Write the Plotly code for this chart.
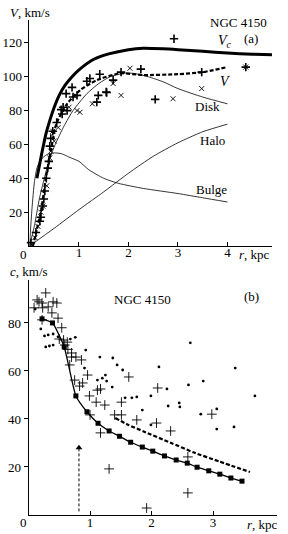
import plotly.graph_objects as go

# ---------- Panel (a) data ----------
vc_r = [0.15, 0.25, 0.33, 0.43, 0.5, 0.6, 0.72, 0.86, 1.0, 1.28, 1.6, 2.0, 2.3, 2.7, 3.0, 3.5, 4.0, 4.5, 4.9]
vc_v = [40, 55, 66, 76, 82, 89, 95, 100, 104, 110, 113.5, 116, 116.8, 116.5, 116, 115, 114, 113.3, 113]

vobs_r = [0.07, 0.15, 0.23, 0.33, 0.43, 0.54, 0.76, 1.02, 1.36, 1.83, 2.3, 3.0, 3.5, 4.0]
vobs_v = [0, 10, 20, 40, 56, 72, 84, 92, 98, 102, 101, 101.5, 102.7, 105.7]

disk_r = [0, 0.1, 0.2, 0.3, 0.4, 0.52, 0.7, 0.88, 1.16, 1.4, 1.63, 1.9, 2.1, 2.4, 2.7, 3.0, 3.5, 4.0]
disk_v = [0, 12, 28, 40, 51, 60, 71, 80, 90, 96, 100, 102, 102, 100, 97, 93, 88, 84]

halo_r = [0, 0.5, 1.0, 1.5, 2.0, 2.5, 3.0, 3.5, 4.0]
halo_v = [0, 10.5, 21.5, 32, 43, 53, 61, 67.5, 72]

bulge_r = [0, 0.05, 0.1, 0.15, 0.23, 0.35, 0.5, 0.65, 0.8, 1.0, 1.2, 1.5, 1.8, 2.3, 3.0, 3.5, 4.0]
bulge_v = [0, 22, 38, 46, 51, 54, 55, 54.5, 52.5, 50, 45, 40, 37, 34, 31, 28.5, 26]

plus_a_r = [1.42, 1.22, 1.16, 0.86, 0.74, 0.96, 0.88, 1.56, 1.39, 1.36, 0.64, 0.68, 0.66, 0.76, 0.55,
            1.85, 2.25, 1.69, 1.55, 2.54, 3.48, 2.92, 4.37, 0.34, 0.31, 0.29, 0.27, 0.23, 0.21, 0.13,
            0.03, 0.43, 0.41, 0.37, 0.47, 0.39]
plus_a_v = [101.5, 99, 97.3, 93.7, 90, 89, 88, 90.7, 89, 85, 80.6, 82, 78, 80, 73,
            102.7, 104.5, 98, 91, 86.6, 102.7, 122.4, 105.7, 40, 32.5, 27.8, 23.6, 17, 14.6, 8,
            2, 63.6, 59, 46, 67.8, 50]

x_a_r = [1.27, 1.69, 0.96, 1.02, 2.03, 1.85, 2.9, 3.48, 4.37, 0.43, 0.35, 0.27, 0.23, 0.17, 0.11,
         0.47, 0.41, 0.5, 0.58, 0.8]
x_a_v = [84, 96, 80, 79, 105, 89, 87, 93, 105.7, 56, 35.6, 23.6, 20, 11.6, 5,
         67.8, 52, 62, 70, 82]

# ---------- Panel (b) data ----------
sq_r = [0.22, 0.39, 0.58, 0.77, 0.95, 1.13, 1.31, 1.48, 1.66, 1.85, 2.02, 2.21, 2.4, 2.58, 2.74, 2.93, 3.11, 3.29, 3.47]
sq_c = [81.7, 80, 70, 49.6, 43, 38.2, 35, 32.8, 30.3, 28.3, 26.6, 24.6, 22.9, 21.6, 19.9, 18.4, 17, 15.4, 14.1]

dash_b_r = [1.41, 1.6, 1.89, 2.3, 2.69, 3.1, 3.6]
dash_b_c = [40.4, 37.8, 34.6, 30.2, 26, 22.3, 17.9]

plus_b_r = [0.28, 0.14, 0.17, 0.22, 0.4, 0.46, 0.09, 0.23, 0.32, 0.38, 0.48, 0.22, 0.54, 0.5, 0.57, 0.63,
            0.59, 0.64, 0.7, 0.7, 0.77, 0.86, 0.67, 0.96, 1.63, 0.75, 0.88, 0.83, 1.12, 1.17, 0.99,
            2.1, 1.1, 1.24, 1.51, 1.0, 1.4, 1.51, 1.17, 1.76, 1.31, 2.08, 2.31, 2.98, 2.59, 2.59, 1.92]
plus_b_c = [92.5, 89.6, 88.8, 88.3, 88.8, 88.3, 86.3, 86.3, 86.7, 84.2, 82, 81.3, 78, 73.3, 72.9, 72,
            70.8, 69, 67.5, 65.8, 65.8, 64.6, 62.5, 58.3, 57.5, 56.2, 55, 53.7, 52, 52.5, 49.6,
            52.9, 47, 45.8, 47, 41.7, 41.7, 41.7, 34.2, 39.6, 19.2, 38.3, 35, 42, 24.2, 9.2, 2.9]

dot_b_r = [0.11, 0.2, 0.26, 0.32, 0.4, 0.28, 0.34, 0.4, 0.48, 0.68, 0.76, 0.93, 1.16, 1.37, 1.44, 0.91,
           1.53, 1.12, 1.2, 1.25, 1.27, 1.36, 1.57, 1.68, 1.76, 2.63, 2.12, 3.36, 2.84, 2.6, 2.25,
           1.99, 3.68, 1.85, 2.27, 2.45, 2.46, 1.99, 2.8, 3.06, 3.06, 3.34, 4.07, 4.07]
dot_b_c = [85.8, 77.5, 74.6, 75, 75.4, 70, 70.4, 70.8, 74.2, 73.3, 74, 68.7, 65.8, 65.4, 62.5, 61.2,
           60.4, 56.2, 57, 58.3, 55.8, 53.3, 48.8, 48.8, 49.2, 71.7, 61.7, 61.2, 55.8, 54.2, 52.5,
           49.6, 49.6, 43.7, 45.4, 46.7, 45, 37.5, 42, 44.2, 35.8, 36.7, 43.7, 40]

arrow_r = [0.82, 0.82]
arrow_c = [1.5, 28]

xt_a = [1, 2, 3, 4]
yt_a = [20, 40, 60, 80, 100, 120]
xt_b = [1, 2, 3]
yt_b = [20, 40, 60, 80]

FONT = "Liberation Serif"
K = "black"

fig = go.Figure()

def line(x, y, w, dash="solid", xa="x", ya="y"):
    fig.add_trace(go.Scatter(x=x, y=y, mode="lines", line=dict(color=K, width=w, dash=dash, shape="spline", smoothing=0.6),
                             xaxis=xa, yaxis=ya, showlegend=False, hoverinfo="skip", cliponaxis=False))

# panel (a)
line(halo_r, halo_v, 0.8)
line(bulge_r, bulge_v, 0.8)
line(disk_r, disk_v, 0.8)
line(vobs_r, vobs_v, 2.2, dash="4px,2px")
line(vc_r, vc_v, 3)
fig.add_trace(go.Scatter(x=plus_a_r, y=plus_a_v, mode="markers",
                         marker=dict(symbol="cross-thin", size=6, line=dict(color=K, width=1.6)),
                         showlegend=False, cliponaxis=False))
fig.add_trace(go.Scatter(x=x_a_r, y=x_a_v, mode="markers",
                         marker=dict(symbol="x-thin", size=5, line=dict(color=K, width=0.9)),
                         showlegend=False, cliponaxis=False))

# panel (b)
fig.add_trace(go.Scatter(x=sq_r, y=sq_c, mode="lines+markers", xaxis="x2", yaxis="y2",
                         line=dict(color=K, width=1.3, shape="spline", smoothing=0.5),
                         marker=dict(symbol="square", size=5, color=K),
                         showlegend=False, cliponaxis=False))
line(dash_b_r, dash_b_c, 2.2, dash="4px,2px", xa="x2", ya="y2")
fig.add_trace(go.Scatter(x=plus_b_r, y=plus_b_c, mode="markers", xaxis="x2", yaxis="y2",
                         marker=dict(symbol="cross-thin", size=7, line=dict(color=K, width=0.9)),
                         showlegend=False, cliponaxis=False))
fig.add_trace(go.Scatter(x=dot_b_r, y=dot_b_c, mode="markers", xaxis="x2", yaxis="y2",
                         marker=dict(symbol="circle", size=2.8, color=K),
                         showlegend=False, cliponaxis=False))
fig.add_trace(go.Scatter(x=arrow_r, y=arrow_c, mode="lines", xaxis="x2", yaxis="y2",
                         line=dict(color=K, width=1, dash="3px,2px"), showlegend=False))
fig.add_trace(go.Scatter(x=[arrow_r[1]], y=[arrow_c[1]], mode="markers", xaxis="x2", yaxis="y2",
                         marker=dict(symbol="triangle-up", size=6, color=K), showlegend=False))

axis_common = dict(showgrid=False, zeroline=False, showline=True, linecolor=K, linewidth=1,
                   tickfont=dict(family=FONT, size=13, color=K), ticklen=4, tickwidth=1, tickcolor=K)

fig.update_layout(
    width=288, height=534, margin=dict(l=0, r=0, t=0, b=0),
    paper_bgcolor="white", plot_bgcolor="white",
    xaxis=dict(domain=[0.1024, 0.9444], range=[0, 4.9], tickvals=xt_a, ticks="inside",
               ticklabelstandoff=-6, anchor="y", **axis_common),
    yaxis=dict(domain=[0.5393, 0.9625], range=[0, 133.5], tickvals=yt_a, ticks="outside",
               anchor="x", **axis_common),
    xaxis2=dict(domain=[0.099, 0.962], range=[0, 4.04], tickvals=xt_b, ticks="inside",
                ticklabelstandoff=-5, anchor="y2", **axis_common),
    yaxis2=dict(domain=[0.0356, 0.4757], range=[0, 97.9], tickvals=yt_b, ticks="outside",
                anchor="x2", **axis_common),
)

def txt(x, y, s, size=13, xanchor="center"):
    fig.add_annotation(x=x / 288, y=1 - y / 534, xref="paper", yref="paper", text=s, showarrow=False,
                       font=dict(family=FONT, size=size, color=K), xanchor=xanchor, yanchor="middle")

txt(8, 12, "<i>V</i>, km/s", xanchor="left")
txt(238, 23, "NGC 4150")
txt(251, 39, "(a)")
txt(225, 42, "<i>V<sub>c</sub></i>", size=14)
txt(225, 81, "<i>V</i>", size=14)
txt(207, 107, "Disk")
txt(212, 140, "Halo")
txt(211, 189, "Bulge")
txt(23, 255, "0")
txt(254, 254, "<i>r</i>, kpc")

txt(8, 271, "<i>c</i>, km/s", xanchor="left")
txt(142, 299, "NGC 4150")
txt(251, 296, "(b)")
txt(23, 522, "0")
txt(262, 524, "<i>r</i>, kpc")

fig.write_html("out.html", config={"displayModeBar": False},
               post_script="document.body.style.margin='0';document.body.style.overflow='hidden';")
